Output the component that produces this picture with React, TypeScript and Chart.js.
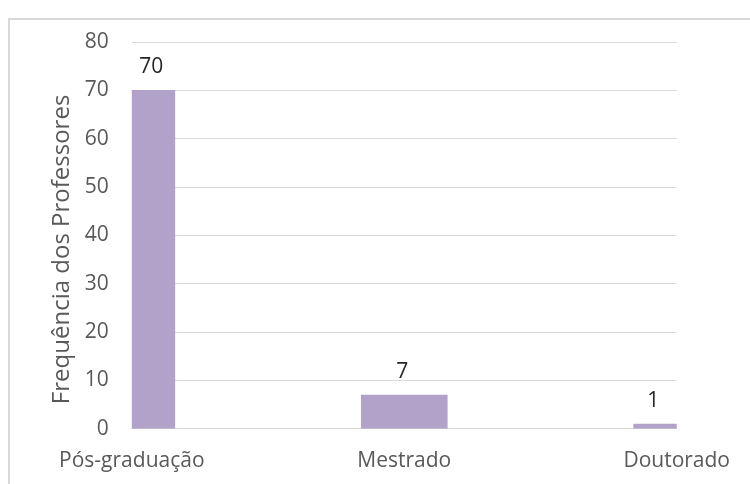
import React, { useEffect, useRef } from "react";
import { Chart, registerables } from "chart.js";

Chart.register(...registerables);

const categories = ["Pós-graduação", "Mestrado", "Doutorado"];
const values = [70, 7, 1];
const yTitle = "Frequência dos Professores";

const FONT = '"Open Sans", "Noto Sans", sans-serif';

const dataLabels = {
  id: "dataLabels",
  afterDatasetsDraw(chart: any) {
    const { ctx, chartArea } = chart;
    const meta = chart.getDatasetMeta(0);
    ctx.save();
    ctx.font = `21px ${FONT}`;
    ctx.fillStyle = "#262626";
    ctx.textAlign = "center";
    ctx.textBaseline = "alphabetic";
    meta.data.forEach((bar: any, i: number) => {
      const half = bar.width / 2;
      const l = Math.max(bar.x - half, chartArea.left);
      const r = Math.min(bar.x + half, chartArea.right);
      ctx.fillText(String(values[i]), (l + r) / 2 - 2, bar.y - 17);
    });
    // y-axis title, centred slightly below the plot centre as in the reference
    const yScale = chart.scales.y;
    ctx.font = `24px ${FONT}`;
    ctx.fillStyle = "#595959";
    ctx.textBaseline = "middle";
    ctx.translate(yScale.left + 14, (chartArea.top + chartArea.bottom) / 2 + 14);
    ctx.rotate(-Math.PI / 2);
    ctx.fillText(yTitle, 0, 0);
    ctx.restore();
  },
};

export default function App() {
  const ref = useRef<HTMLCanvasElement>(null);
  useEffect(() => {
    const chart = new Chart(ref.current!, {
      type: "bar",
      data: {
        labels: categories,
        datasets: [
          {
            data: values,
            backgroundColor: "#b0a2c9",
            barThickness: 86,
            clip: 0,
          } as any,
        ],
      },
      options: {
        animation: false,
        responsive: false,
        layout: { padding: { left: 48, right: 71, top: 42, bottom: 0 } },
        plugins: { legend: { display: false }, tooltip: { enabled: false } },
        scales: {
          x: {
            offset: false,
            grid: { display: false, drawTicks: false },
            border: { display: true, color: "#d9d9d9", width: 1 },
            ticks: { color: "#595959", font: { family: FONT, size: 21 }, padding: 20, maxRotation: 0 },
          },
          y: {
            min: 0,
            max: 80,
            ticks: { stepSize: 10, color: "#595959", font: { family: FONT, size: 21 }, padding: 23 },
            grid: { color: "#d9d9d9", drawTicks: false },
            border: { display: false },
            title: {
              display: true,
              text: yTitle,
              color: "rgba(0,0,0,0)",
              font: { family: FONT, size: 24 },
              padding: { top: 0, bottom: -15 },
            },
          },
        },
      },
      plugins: [dataLabels],
    });
    return () => chart.destroy();
  }, []);
  return (
    <div style={{ position: "fixed", left: 0, top: 0, width: 750, height: 484, overflow: "hidden", background: "#fff" }}>
      <div style={{ position: "absolute", left: 8, top: 18, width: 800, height: 600, border: "2px solid #d9d9d9", boxSizing: "border-box" }} />
      <canvas ref={ref} width={750} height={494} style={{ position: "absolute", left: 0, top: 0 }} />
    </div>
  );
}
